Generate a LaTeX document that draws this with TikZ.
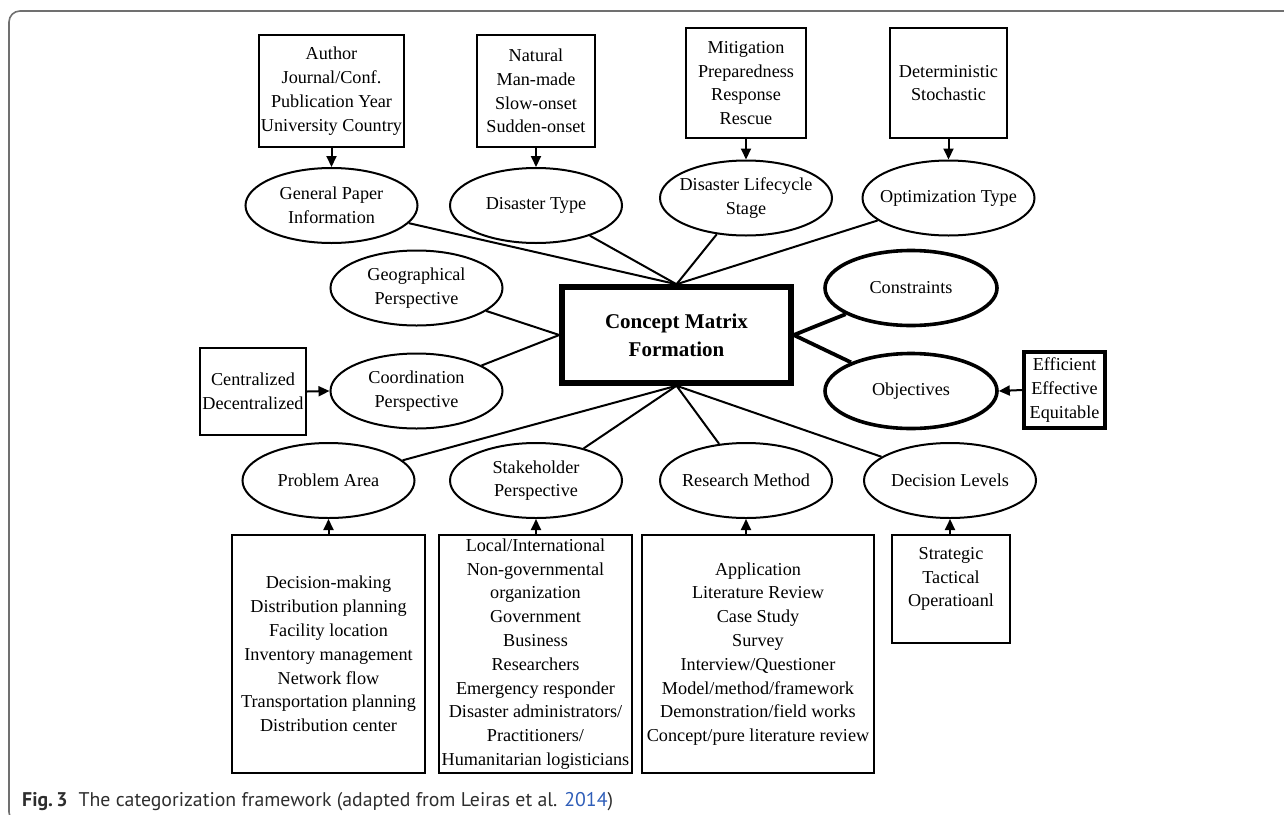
\documentclass[tikz,border=0pt]{standalone}
\usepackage{fontspec}
\setmainfont{Liberation Serif}
\newfontfamily\capfont{PT Sans}
\usetikzlibrary{shapes.geometric,arrows.meta}
\definecolor{framegray}{HTML}{707070}
\definecolor{captext}{HTML}{2E2E2E}
\definecolor{citeblue}{HTML}{2E5DB8}
\tikzset{
  ell/.style={ellipse, draw, line width=2pt, minimum width=172pt, minimum height=75pt,
    inner xsep=-12pt, inner ysep=0pt, align=center, font=\fontsize{18.2}{23.6}\selectfont},
  thickell/.style={ell, line width=3.6pt},
  box/.style={rectangle, draw, line width=2.2pt, inner sep=0pt, align=center,
    font=\fontsize{18.2}{23.8}\selectfont},
  thickbox/.style={box, line width=3.4pt},
  arr/.style={line width=2pt, -{Triangle[length=11pt,width=10pt]}},
  link/.style={line width=2pt},
  thicklink/.style={line width=3.8pt},
}
\begin{document}
\begin{tikzpicture}[x=1pt,y=-1pt]
\useasboundingbox (0,0) rectangle (1284,814);
\clip (0,0) rectangle (1284,814);
% outer frame
\draw[framegray, line width=1.6pt, rounded corners=11pt] (9,11) rectangle (1340,823);

% central node
\node[rectangle, draw, line width=5.5pt, minimum width=229pt, minimum height=96pt,
  inner sep=0pt, align=center, font=\fontsize{21}{28}\selectfont\bfseries]
  (cm) at (676.5,335) {Concept Matrix\\Formation};

% top row
\node[box, minimum width=145pt, minimum height=112pt] (abox) at (331.5,91)
  {Author\\Journal/Conf.\\Publication Year\\University Country};
\node[box, minimum width=118pt, minimum height=112pt] (nbox) at (536,91)
  {Natural\\Man-made\\Slow-onset\\Sudden-onset};
\node[box, minimum width=120pt, minimum height=110pt] (mbox) at (746,83)
  {Mitigation\\Preparedness\\Response\\Rescue};
\node[box, minimum width=117pt, minimum height=110pt] (dbox) at (948.5,83)
  {Deterministic\\Stochastic};

\node[ell] (gpi) at (331.5,205.5) {General Paper\\Information};
\node[ell] (dtype) at (536,205.5) {Disaster Type};
\node[ell] (dls) at (746,198) {Disaster Lifecycle\\Stage};
\node[ell] (opt) at (948.5,198) {Optimization Type};

% middle row
\node[ell] (geo) at (416.5,288) {Geographical\\Perspective};
\node[ell] (coord) at (416.5,391) {Coordination\\Perspective};
\node[thickell] (cons) at (911,288) {Constraints};
\node[thickell] (obj) at (911,391) {Objectives};
\node[box, minimum width=106pt, minimum height=87pt] (cbox) at (253,391.5)
  {Centralized\\Decentralized};
\node[thickbox, minimum width=81pt, minimum height=76pt] (ebox) at (1064.5,390)
  {Efficient\\Effective\\Equitable};

% bottom row
\node[ell] (pa) at (328.5,480.5) {Problem Area};
\node[ell] (sp) at (536,480.5) {Stakeholder\\Perspective};
\node[ell] (rm) at (746,480.5) {Research Method};
\node[ell] (dl) at (950,480.5) {Decision Levels};

\node[box, minimum width=193pt, minimum height=238pt] (pbox) at (328.5,654)
  {Decision-making\\Distribution planning\\Facility location\\Inventory management\\Network flow\\Transportation planning\\Distribution center};
\node[box, minimum width=193pt, minimum height=238pt] (sbox) at (535.5,654)
  {Local/International\\Non-governmental\\organization\\Government\\Business\\Researchers\\Emergency responder\\Disaster administrators/\\Practitioners/\\Humanitarian logisticians};
\node[box, minimum width=232pt, minimum height=238pt] (rbox) at (758,654)
  {Application\\Literature Review\\Case Study\\Survey\\Interview/Questioner\\Model/method/framework\\Demonstration/field works\\Concept/pure literature review};
\node[box, minimum width=118pt, minimum height=108pt] (dlbox) at (951,589)
  {Strategic\\Tactical\\Operatioanl\\\mbox{}};

% arrows from attribute boxes to their categories
\draw[arr] (abox.south) -- (gpi.north);
\draw[arr] (nbox.south) -- (dtype.north);
\draw[arr] (mbox.south) -- (dls.north);
\draw[arr] (dbox.south -| opt.north) -- (opt.north);
\draw[arr] (cbox.east) -- (coord.west);
\draw[arr] (ebox.west) -- (obj.east);
\draw[arr] (pbox.north -| pa.south) -- (pa.south);
\draw[arr] (sbox.north -| sp.south) -- (sp.south);
\draw[arr] (rbox.north -| rm.south) -- (rm.south);
\draw[arr] (dlbox.north -| dl.south) -- (dl.south);

% links from the concept matrix to the categories
\draw[link] (cm.north) -- (gpi);
\draw[link] (cm.north) -- (dtype);
\draw[link] (cm.north) -- (dls);
\draw[link] (cm.north) -- (opt);
\draw[link] (cm.west) -- (geo);
\draw[link] (cm.west) -- (coord);
\draw[link] (cm.south) -- (pa);
\draw[link] (cm.south) -- (sp);
\draw[link] (cm.south) -- (rm);
\draw[link] (cm.south) -- (dl);
\draw[thicklink] (cm.east) -- (cons);
\draw[thicklink] (cm.east) -- (obj);

% caption
\node[anchor=base west, inner sep=0pt, text=captext, font=\capfont\fontsize{19.8}{22}\selectfont]
  (cap) at (22,806) {\textbf{Fig.\,3}\hspace{11pt}The categorization framework (adapted from Leiras et al. \textcolor{citeblue}{2014})};
\end{tikzpicture}
\end{document}
